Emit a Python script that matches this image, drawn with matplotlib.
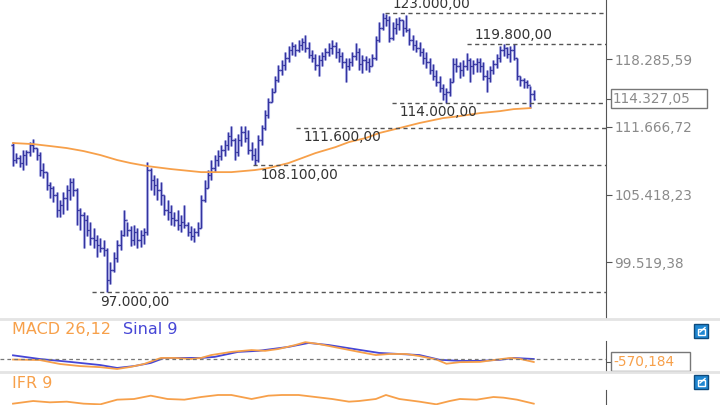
import matplotlib
matplotlib.use("Agg")
import matplotlib.pyplot as plt
import numpy as np
from matplotlib.lines import Line2D
from matplotlib.patches import Rectangle
from matplotlib.ticker import FixedLocator, FuncFormatter, NullLocator

# ---------------- data (prices in thousands of points) ----------------
first_open = 109.95

high = [110.23, 109.20, 109.02, 109.48, 109.48, 110.23, 110.51, 109.67, 109.30, 108.28,
        107.45, 106.54, 106.18, 105.64, 104.92, 105.64, 106.27, 106.91, 106.91, 106.00,
        104.21, 103.86, 103.59, 102.98, 102.46, 101.85, 101.59, 101.41, 100.73, 99.53,
        100.39, 101.41, 102.28, 104.04, 102.98, 102.63, 102.72, 102.46, 102.28, 102.46,
        108.37, 107.82, 107.18, 106.91, 106.54, 105.37, 104.92, 104.48, 103.86, 104.04,
        103.59, 104.48, 102.98, 102.63, 102.46, 102.98, 105.37, 106.72, 107.64, 108.56,
        109.02, 109.48, 109.95, 110.42, 111.17, 111.74, 110.61, 110.98, 111.74, 111.74,
        111.36, 110.23, 109.67, 110.89, 111.84, 113.27, 114.43, 115.42, 116.60, 117.69,
        118.19, 119.00, 119.61, 120.02, 119.81, 120.22, 120.42, 120.73, 120.02, 119.20,
        118.80, 118.70, 119.00, 119.40, 119.91, 120.22, 120.02, 119.40, 119.00, 118.39,
        118.39, 119.00, 119.91, 119.40, 118.70, 118.60, 118.39, 118.80, 120.63, 122.07,
        123.00, 122.90, 122.70, 122.07, 122.49, 122.59, 122.28, 122.80, 121.45, 120.73,
        120.22, 120.02, 119.40, 119.00, 118.39, 117.79, 117.19, 116.60, 115.81, 115.42,
        116.40, 118.39, 118.39, 117.99, 118.19, 118.90, 118.39, 118.19, 118.39, 118.39,
        117.99, 117.19, 117.59, 118.19, 118.80, 119.61, 119.80, 119.55, 119.61, 119.80,
        118.39, 116.60, 116.40, 116.20, 115.61, 115.22]

low = [108.00, 108.28, 107.91, 107.64, 108.09, 108.93, 109.30, 108.56, 107.09, 106.91,
       105.82, 105.10, 104.74, 103.41, 103.41, 103.68, 104.04, 104.92, 105.28, 102.72,
       102.28, 100.73, 101.76, 100.98, 100.73, 99.96, 100.39, 100.04, 97.00, 97.68,
       98.69, 99.53, 100.56, 101.76, 101.76, 100.90, 100.98, 100.73, 100.81, 101.07,
       101.85, 105.82, 105.37, 104.92, 104.48, 103.59, 103.15, 102.72, 102.63, 102.28,
       102.11, 102.46, 101.76, 101.41, 101.24, 101.76, 102.46, 104.74, 106.00, 106.72,
       107.45, 108.00, 108.56, 108.93, 109.48, 109.86, 108.56, 108.93, 109.86, 110.23,
       109.11, 108.56, 108.10, 108.37, 109.95, 111.36, 112.50, 114.05, 115.02, 116.00,
       116.70, 117.19, 117.99, 118.70, 118.60, 119.00, 119.20, 119.00, 118.39, 117.99,
       117.19, 116.60, 117.59, 118.19, 118.60, 118.80, 118.39, 117.99, 117.39, 116.00,
       117.19, 117.59, 118.19, 117.19, 116.89, 117.19, 116.99, 117.59, 118.19, 120.02,
       121.25, 121.66, 120.02, 120.22, 120.83, 121.25, 120.63, 121.04, 119.71, 119.20,
       119.00, 118.60, 117.79, 117.39, 116.79, 116.20, 115.61, 115.02, 114.24, 114.00,
       114.63, 116.00, 116.99, 116.40, 116.60, 117.19, 116.00, 116.79, 116.99, 116.99,
       116.20, 115.02, 116.00, 116.79, 117.39, 117.99, 118.60, 118.39, 117.99, 118.19,
       116.20, 115.61, 115.42, 115.42, 113.46, 114.24]

close = [108.56, 108.74, 108.28, 109.02, 109.30, 109.95, 109.67, 109.02, 107.64, 107.45,
         106.27, 106.00, 105.37, 104.04, 104.48, 105.10, 105.82, 106.54, 105.82, 104.04,
         103.59, 103.15, 102.28, 101.59, 101.41, 100.98, 100.73, 100.56, 98.02, 98.86,
         99.87, 100.98, 101.85, 103.15, 102.28, 101.41, 102.11, 101.41, 101.85, 102.11,
         107.64, 106.72, 106.27, 105.82, 105.37, 104.04, 103.86, 103.33, 103.15, 102.72,
         102.98, 102.72, 102.11, 101.76, 102.11, 102.46, 104.92, 106.00, 107.18, 107.82,
         108.56, 108.93, 109.48, 109.95, 110.79, 110.42, 109.30, 110.42, 111.17, 110.61,
         109.48, 109.02, 108.56, 110.42, 111.55, 112.79, 114.05, 115.02, 116.20, 117.19,
         117.69, 118.39, 119.20, 119.61, 119.20, 119.71, 120.02, 119.40, 118.70, 118.39,
         117.69, 118.19, 118.60, 119.00, 119.40, 119.61, 119.00, 118.60, 117.99, 117.59,
         117.99, 118.60, 119.00, 117.79, 118.19, 117.99, 117.59, 118.39, 120.22, 121.45,
         122.49, 122.28, 120.42, 121.45, 121.86, 122.28, 121.45, 121.25, 120.22, 119.71,
         119.40, 119.00, 118.39, 117.99, 117.19, 116.60, 116.00, 115.42, 114.83, 115.02,
         116.00, 117.79, 117.59, 117.19, 117.59, 118.19, 117.59, 117.79, 117.99, 117.59,
         116.60, 116.40, 117.19, 117.79, 118.39, 119.20, 119.40, 118.80, 119.20, 118.39,
         116.60, 116.20, 116.00, 115.71, 114.83, 114.32705]

# moving average (orange), read at some bars
ma_bar = [0, 6, 11, 16, 21, 26, 31, 35, 40, 47, 56, 65, 72, 76, 82, 90, 96, 100, 105,
          109, 115, 121, 128, 133, 139, 145, 149, 154]
ma_val = [110.14, 110.04, 109.86, 109.67, 109.39, 109.02, 108.56, 108.28, 108.00, 107.73,
          107.45, 107.45, 107.64, 107.82, 108.28, 109.20, 109.76, 110.23, 110.61, 111.08,
          111.55, 112.03, 112.50, 112.69, 112.98, 113.17, 113.36, 113.46]

# support / resistance levels
levels = [123000, 119800, 114000, 111600, 108100, 97000]
level_start = [110.7, 135.0, 112.8, 84.2, 71.4, 23.5]
level_above = [True, True, False, False, False, False]

# right axis ticks
price_ticks = [118285.59, 111666.72, 105418.23, 99519.38]
last_price = 114327.05

# MACD 26,12 and signal 9
macd_bar = [0, 8, 14, 20, 26, 31, 35, 39, 44, 48, 53, 56, 59, 65, 71, 75, 79, 84, 87, 91,
            97, 103, 108, 112, 117, 121, 126, 129, 133, 139, 143, 148, 151, 155]
macd_val = [-100, -200, -950, -1350, -1550, -1900, -1500, -950, 200, 200, 0, 200, 750,
            1350, 1700, 1550, 1900, 2650, 3200, 2850, 2100, 1350, 750, 950, 950, 550,
            -100, -900, -600, -550, -200, 200, 0, -570.184]
sig_bar = [0, 8, 17, 26, 31, 36, 41, 45, 49, 56, 60, 67, 73, 82, 88, 94, 103, 109, 115,
           121, 127, 133, 139, 145, 149, 155]
sig_val = [700, 0, -550, -1150, -1700, -1350, -750, 200, 200, 200, 400, 1350, 1550, 2300,
           3050, 2650, 1750, 1150, 950, 750, -150, -350, -350, -150, 200, 0]

# IFR 9
ifr_bar = [0, 6, 11, 16, 21, 26, 31, 36, 41, 46, 51, 56, 61, 65, 71, 76, 80, 85, 90, 95,
           100, 103, 108, 111, 115, 121, 126, 130, 133, 138, 143, 146, 150, 155]
ifr_val = [54, 58, 56, 57, 54, 53, 60, 61, 66, 61, 60, 64, 67, 67, 61, 66, 67, 67, 64, 61,
           57, 58, 61, 67, 61, 57, 53, 58, 61, 60, 64, 63, 60, 54]

# ---------------- style ----------------
bar_col = "#34349f"
halo_col = "#b6b8ea"
orange = "#f7a04a"
blue = "#4646d6"
W, H = 720, 405
XLIM = (-3.87, 176.5)


def br(v, d=2):
    s = f"{v:,.{d}f}"
    return s.replace(",", "X").replace(".", ",").replace("X", ".")


def fy(y):
    return 1 - y / H


fig = plt.figure(figsize=(7.2, 4.05), dpi=100)
fig.patch.set_facecolor("white")

# ---------------- main price panel ----------------
ax = fig.add_axes([0, fy(318), 606 / W, 318 / H])
idx = np.arange(len(close))
hi = np.array(high) * 1000
lo = np.array(low) * 1000
cl = np.array(close) * 1000
op = np.concatenate([[first_open * 1000], cl[:-1]])

for col, lw in [(halo_col, 2.2), (bar_col, 0.9)]:
    ax.vlines(idx, lo, hi, color=col, lw=lw)
    ax.hlines(op, idx - 0.5, idx, color=col, lw=lw)
    ax.hlines(cl, idx, idx + 0.5, color=col, lw=lw)

ax.plot(ma_bar, np.array(ma_val) * 1000, color=orange, lw=1.3)

ax.set_yscale("log")
ax.set_ylim(94920, 124378)
ax.set_xlim(*XLIM)

for lvl, st, above in zip(levels, level_start, level_above):
    ax.plot([st, XLIM[1]], [lvl, lvl], color="#555555", lw=1.0, ls=(0, (3, 2.5)))
    ax.annotate(br(lvl), xy=(st, lvl), xytext=(5.8, 6.6 if above else -6.9),
                textcoords="offset points", va="center", ha="left",
                fontsize=9.8, color="#333333")

for s in ["top", "left", "bottom"]:
    ax.spines[s].set_visible(False)
ax.spines["right"].set_color("#555555")
ax.yaxis.tick_right()
ax.yaxis.set_major_locator(FixedLocator(price_ticks + [last_price]))
ax.yaxis.set_major_formatter(FuncFormatter(lambda v, p: "" if abs(v - last_price) < 1 else br(v)))
ax.yaxis.set_minor_locator(NullLocator())
ax.tick_params(axis="y", colors="#555555", labelcolor="#8a8a8a", length=4, pad=2,
               labelsize=9.8)
ax.set_xticks([])

# last price box
fig.patches.append(Rectangle((611 / W, fy(108)), 96 / W, 19 / H, transform=fig.transFigure,
                             facecolor="white", edgecolor="#777777", lw=1))
fig.text(613 / W, fy(99), br(last_price), fontsize=9.8, color="#8a8a8a", va="center")

# ---------------- MACD panel ----------------
am = fig.add_axes([0, fy(371), 606 / W, 51 / H])
am.set_xlim(*XLIM)
am.set_ylim(-2280, 7410)
am.plot(sig_bar, sig_val, color=blue, lw=1.3)
am.plot(macd_bar, macd_val, color=orange, lw=1.3)
am.axhline(0, color="#777777", lw=0.9, ls=(0, (3, 2.5)))
for s in ["top", "left", "bottom"]:
    am.spines[s].set_visible(False)
am.spines["right"].set_color("#555555")
am.spines["right"].set_bounds(-2280, 3420)
am.set_xticks([])
am.yaxis.tick_right()
am.set_yticks([macd_val[-1]])
am.set_yticklabels([""])
am.tick_params(axis="y", colors="#555555", length=4)
am.patch.set_alpha(0)

fig.text(12 / W, fy(329), "MACD 26,12", fontsize=11.5, color=orange, va="center")
fig.text(123 / W, fy(329), "Sinal 9", fontsize=11.5, color=blue, va="center")
fig.patches.append(Rectangle((611 / W, fy(371)), 79 / W, 19 / H, transform=fig.transFigure,
                             facecolor="white", edgecolor="#777777", lw=1))
fig.text(613 / W, fy(362), br(macd_val[-1], 3), fontsize=9.8, color=orange, va="center")

# ---------------- IFR panel ----------------
ai = fig.add_axes([0, 0, 606 / W, 32 / H])
ai.set_xlim(*XLIM)
ai.set_ylim(52, 100)
ai.plot(ifr_bar, ifr_val, color=orange, lw=1.3)
for s in ["top", "left", "bottom"]:
    ai.spines[s].set_visible(False)
ai.spines["right"].set_color("#555555")
ai.spines["right"].set_bounds(52, 74.5)
ai.set_xticks([])
ai.set_yticks([])
ai.patch.set_alpha(0)
fig.text(12 / W, fy(383), "IFR 9", fontsize=11.5, color=orange, va="center")

# panel separators
for ys in [319, 371.5]:
    fig.add_artist(Line2D([0, 1], [fy(ys), fy(ys)], color="#e4e4e4", lw=2,
                          transform=fig.transFigure))

# small popup icons
for yt in [324, 375]:
    fig.patches.append(Rectangle((694 / W, fy(yt + 14)), 14 / W, 14 / H,
                                 transform=fig.transFigure, facecolor="#1f87d2",
                                 edgecolor="#0d4a7c", lw=1))
    fig.patches.append(Rectangle((697.5 / W, fy(yt + 11)), 7 / W, 6 / H,
                                 transform=fig.transFigure, facecolor="none",
                                 edgecolor="white", lw=1))
    fig.add_artist(Line2D([700 / W, 705 / W], [fy(yt + 8), fy(yt + 3.5)], color="white",
                          lw=1, transform=fig.transFigure))

fig.savefig("out.png", dpi=100)
